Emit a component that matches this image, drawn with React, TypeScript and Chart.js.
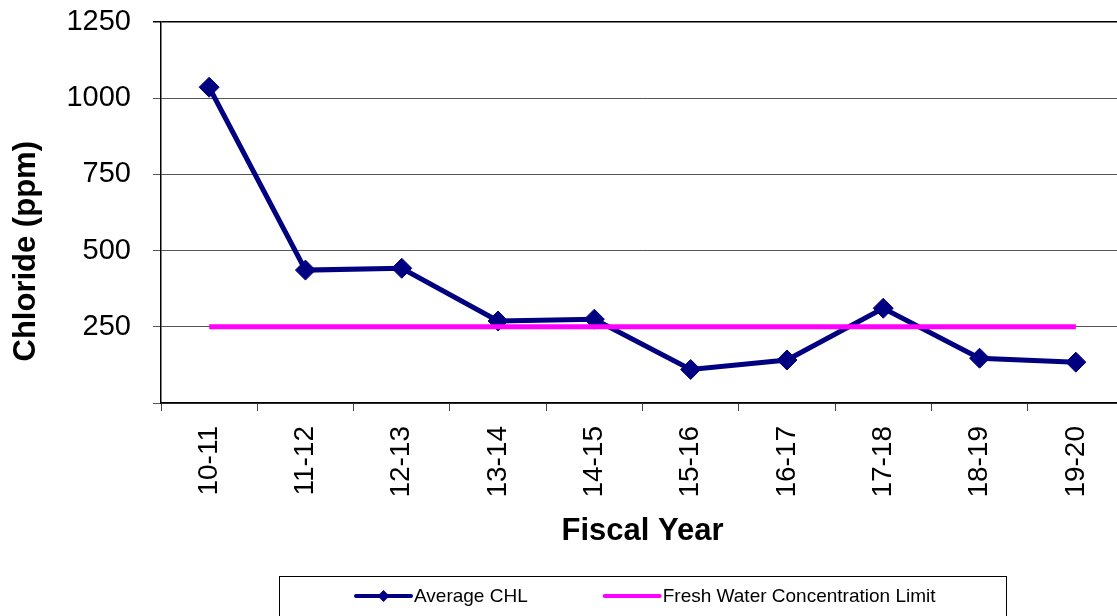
import React, { useEffect, useRef } from "react";
import { Chart, registerables } from "chart.js";

Chart.register(...registerables);

const categories = ["10-11", "11-12", "12-13", "13-14", "14-15", "15-16", "16-17", "17-18", "18-19", "19-20"];
const averageChl = [1036, 436, 442, 269, 275, 110, 141, 311, 147, 134];
const freshWaterLimit = [250, 250, 250, 250, 250, 250, 250, 250, 250, 250];
const yTicks = [0, 250, 500, 750, 1000, 1250];
const seriesNames = ["Average CHL", "Fresh Water Concentration Limit"];

const FONT = '"Liberation Sans", Arial, Helvetica, sans-serif';
const NAVY = "#000080";
const PINK = "#FF00FF";

const boxLegendPlugin = {
  id: "boxLegend",
  afterDraw(chart: any) {
    const ctx = chart.ctx as CanvasRenderingContext2D;
    ctx.save();
    const boxLeft = 279;
    const boxRight = 1006;
    const boxTop = 576;
    ctx.strokeStyle = "#000";
    ctx.lineWidth = 1;
    ctx.strokeRect(boxLeft + 0.5, boxTop + 0.5, boxRight - boxLeft, 80);
    ctx.font = `19px ${FONT}`;
    ctx.textBaseline = "middle";
    ctx.textAlign = "left";
    const y = 596;
    const sample = 55;
    const gapText = 3;
    const gapItem = 77;
    let x = 356;
    [1, 0].forEach((i) => {
      const ds = chart.data.datasets[i];
      ctx.strokeStyle = ds.borderColor;
      ctx.lineWidth = 4;
      ctx.lineCap = "round";
      ctx.beginPath();
      ctx.moveTo(x, y);
      ctx.lineTo(x + sample, y);
      ctx.stroke();
      if (ds.pointRadius > 0) {
        const cx = x + sample / 2;
        const r = 6;
        ctx.fillStyle = ds.borderColor;
        ctx.beginPath();
        ctx.moveTo(cx - r, y);
        ctx.lineTo(cx, y - r);
        ctx.lineTo(cx + r, y);
        ctx.lineTo(cx, y + r);
        ctx.closePath();
        ctx.fill();
      }
      ctx.fillStyle = "#000";
      ctx.fillText(ds.label, x + sample + gapText, y + 1);
      x += sample + gapText + ctx.measureText(ds.label).width + gapItem;
    });
    ctx.restore();
  },
};

export default function App() {
  const canvasRef = useRef<HTMLCanvasElement | null>(null);

  useEffect(() => {
    document.body.style.margin = "0";
    const canvas = canvasRef.current;
    if (!canvas) return;
    const chart = new Chart(canvas, {
      type: "line",
      data: {
        labels: categories,
        datasets: [
          {
            label: seriesNames[1],
            data: freshWaterLimit,
            borderColor: PINK,
            backgroundColor: PINK,
            borderWidth: 5,
            pointRadius: 0,
            pointHoverRadius: 0,
            tension: 0,
            order: 0,
          },
          {
            label: seriesNames[0],
            data: averageChl,
            borderColor: NAVY,
            backgroundColor: NAVY,
            borderWidth: 5,
            pointStyle: "rectRot",
            pointRadius: 10,
            pointBorderWidth: 1,
            pointBackgroundColor: NAVY,
            pointBorderColor: NAVY,
            tension: 0,
            order: 1,
          },
        ],
      },
      options: {
        responsive: false,
        animation: false,
        events: [],
        layout: { padding: { top: 22, right: 11, bottom: 0, left: 0 } },
        plugins: {
          legend: { display: false },
          tooltip: { enabled: false },
        },
        scales: {
          x: {
            type: "category",
            offset: true,
            grid: {
              offset: true,
              drawOnChartArea: false,
              drawTicks: true,
              tickLength: 8,
              color: "#444",
              lineWidth: 1,
            },
            border: { display: true, color: "#000", width: 1.5 },
            ticks: {
              autoSkip: false,
              maxRotation: 90,
              minRotation: 90,
              padding: 15,
              color: "#000",
              font: { family: FONT, size: 28 },
            },
            title: {
              display: true,
              text: "Fiscal Year",
              color: "#000",
              font: { family: FONT, size: 31, weight: "bold" },
              padding: { top: 0, bottom: 66 },
            },
            afterFit(scale: any) {
              scale.height = 213;
            },
          },
          y: {
            min: 0,
            max: 1250,
            afterBuildTicks(scale: any) {
              scale.ticks = yTicks.map((v) => ({ value: v }));
            },
            grid: {
              drawTicks: true,
              tickLength: 8,
              color: (c: any) => (c.tick && c.tick.value === 1250 ? "#000" : "#555"),
              lineWidth: (c: any) => (c.tick && c.tick.value === 1250 ? 1.5 : 1),
            },
            border: { display: true, color: "#000", width: 1.5 },
            ticks: {
              padding: 22,
              color: "#000",
              font: { family: FONT, size: 29 },
              callback: (v: any) => (Number(v) === 0 ? "" : String(v)),
            },
            title: {
              display: true,
              text: "Chloride (ppm)         ",
              color: "#000",
              font: { family: FONT, size: 31, weight: "bold" },
              padding: { top: 8, bottom: 0 },
            },
            afterFit(scale: any) {
              scale.width = 161;
              scale.paddingTop = 0;
              scale.paddingBottom = 0;
            },
          },
        },
      },
      plugins: [boxLegendPlugin],
    } as any);
    return () => chart.destroy();
  }, []);

  return (
    <div style={{ width: 1117, height: 616, overflow: "hidden", position: "relative", background: "#fff" }}>
      <canvas ref={canvasRef} width={1135} height={616} style={{ display: "block", width: 1135, height: 616 }} />
    </div>
  );
}
